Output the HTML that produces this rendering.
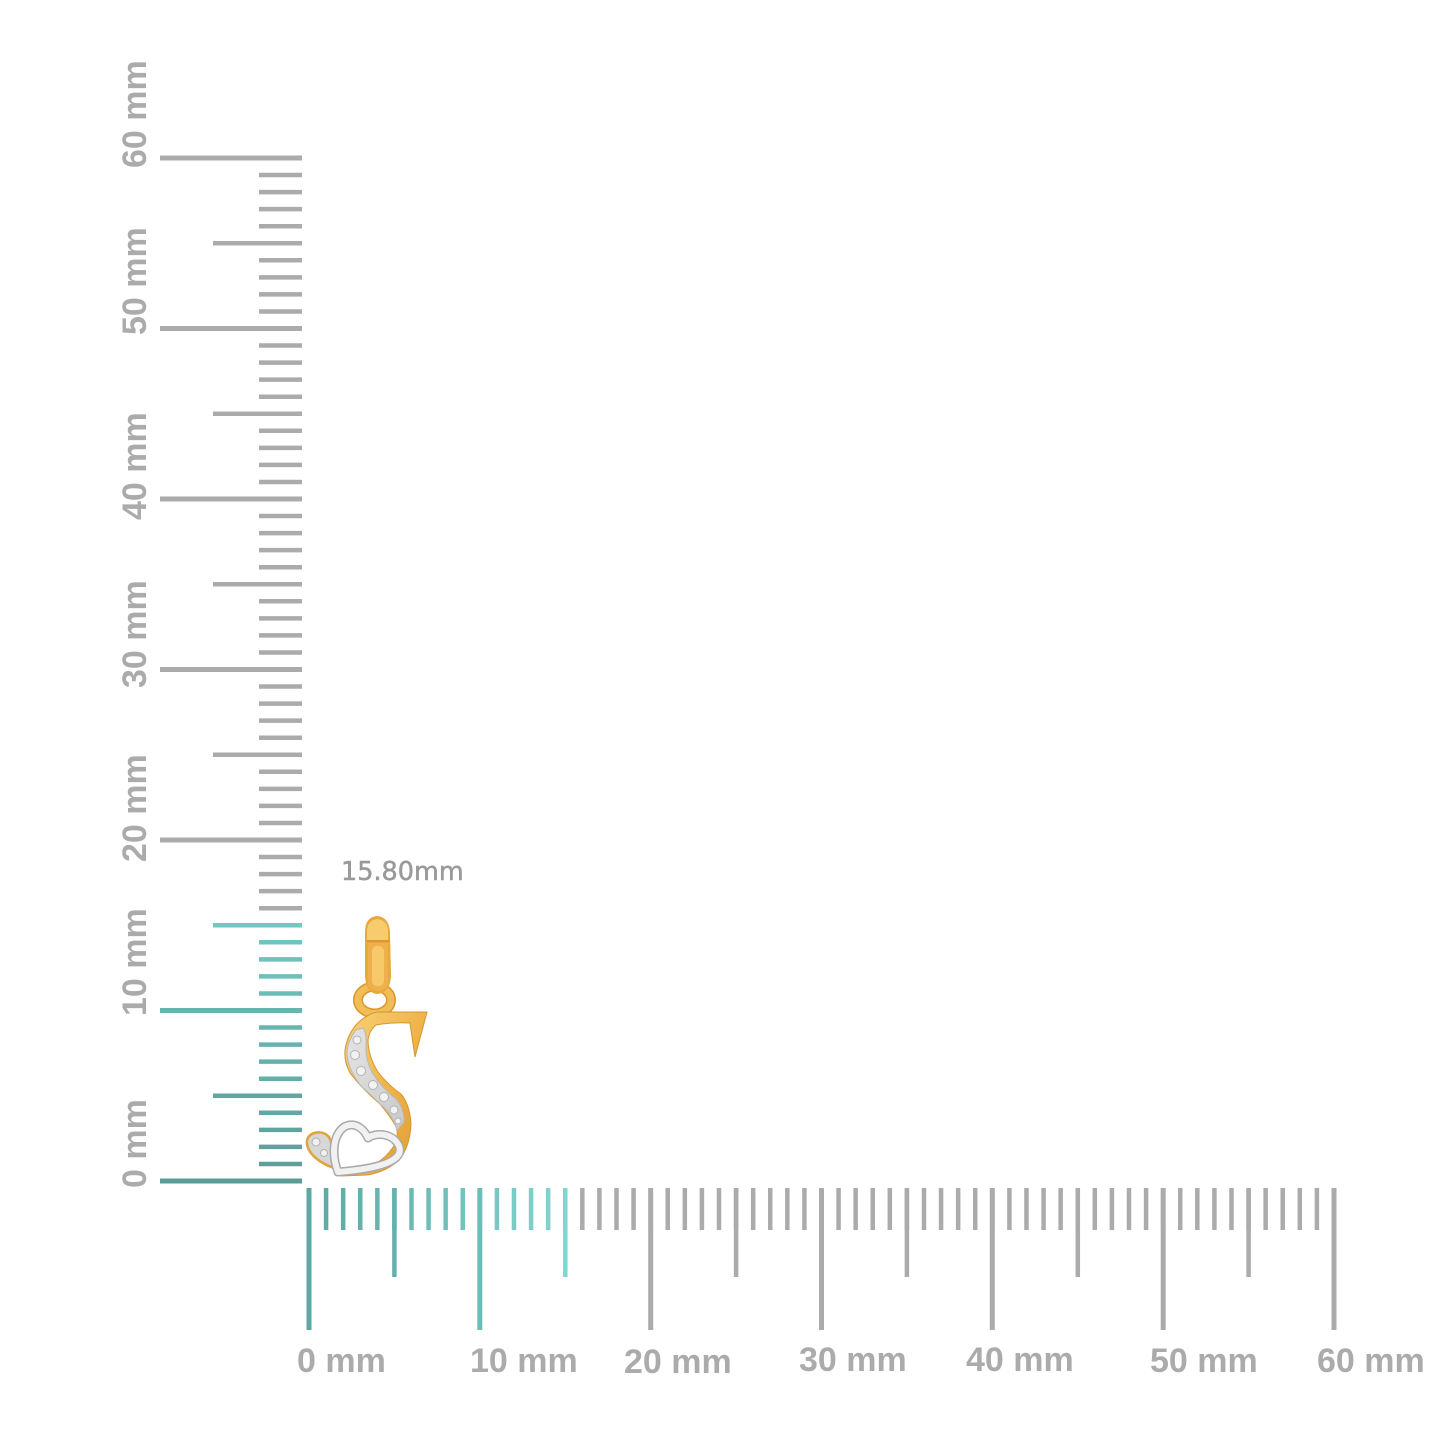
<!DOCTYPE html>
<html>
<head>
<meta charset="utf-8">
<style>
html,body{margin:0;padding:0;background:#fff;}
svg{display:block;}
.lbl{font-family:"Liberation Sans",Arial,sans-serif;font-weight:bold;font-size:34px;fill:#ababab;}
.dim{font-family:"DejaVu Sans","Liberation Sans",sans-serif;font-size:25.5px;fill:#9a9a9a;stroke:#9a9a9a;stroke-width:0.5px;}
</style>
</head>
<body>
<svg width="1445" height="1445" viewBox="0 0 1445 1445" xmlns="http://www.w3.org/2000/svg">
<defs>
<linearGradient id="tv" gradientUnits="userSpaceOnUse" x1="0" y1="1181" x2="0" y2="925">
<stop offset="0" stop-color="#5c9c98"/><stop offset="1" stop-color="#72c7c2"/>
</linearGradient>
<linearGradient id="th" gradientUnits="userSpaceOnUse" x1="309" y1="0" x2="565" y2="0">
<stop offset="0" stop-color="#5fa7a2"/><stop offset="1" stop-color="#80d6d0"/>
</linearGradient>
<linearGradient id="gold" x1="0" y1="0" x2="1" y2="1">
<stop offset="0" stop-color="#f8d37a"/><stop offset="0.5" stop-color="#efb44a"/><stop offset="1" stop-color="#dc9a30"/>
</linearGradient>
<linearGradient id="pave" x1="0" y1="0" x2="1" y2="1">
<stop offset="0" stop-color="#e4e4e4"/><stop offset="1" stop-color="#c9c9c9"/>
</linearGradient>
</defs>

<!-- vertical ruler minor ticks -->
<line x1="280.5" y1="155.75" x2="280.5" y2="911" stroke="#ababab" stroke-width="43" stroke-dasharray="4.5 12.55"/>
<line x1="280.5" y1="923" x2="280.5" y2="1183.5" stroke="url(#tv)" stroke-width="43" stroke-dasharray="4.5 12.55"/>
<!-- vertical ruler major and half ticks -->
<g stroke="#ababab">
<line x1="160" y1="158" x2="302" y2="158" stroke-width="5"/>
<line x1="213" y1="243.3" x2="302" y2="243.3" stroke-width="4.5"/>
<line x1="160" y1="328.5" x2="302" y2="328.5" stroke-width="5"/>
<line x1="213" y1="413.8" x2="302" y2="413.8" stroke-width="4.5"/>
<line x1="160" y1="499" x2="302" y2="499" stroke-width="5"/>
<line x1="213" y1="584.3" x2="302" y2="584.3" stroke-width="4.5"/>
<line x1="160" y1="669.5" x2="302" y2="669.5" stroke-width="5"/>
<line x1="213" y1="754.8" x2="302" y2="754.8" stroke-width="4.5"/>
<line x1="160" y1="840" x2="302" y2="840" stroke-width="5"/>
</g>
<line x1="213" y1="925.3" x2="302" y2="925.3" stroke="#72c7c2" stroke-width="4.5"/>
<line x1="160" y1="1010.5" x2="302" y2="1010.5" stroke="#68b5b0" stroke-width="5"/>
<line x1="213" y1="1095.8" x2="302" y2="1095.8" stroke="#61a6a1" stroke-width="4.5"/>
<line x1="160" y1="1181" x2="302" y2="1181" stroke="#5c9c98" stroke-width="5"/>

<!-- horizontal ruler minor ticks -->
<line x1="306.75" y1="1209" x2="568" y2="1209" stroke="url(#th)" stroke-width="42" stroke-dasharray="4.5 12.583"/>
<line x1="580.08" y1="1209" x2="1337" y2="1209" stroke="#ababab" stroke-width="42" stroke-dasharray="4.5 12.583"/>
<!-- horizontal ruler major and half ticks -->
<line x1="309" y1="1188" x2="309" y2="1330" stroke="#5fa7a2" stroke-width="5"/>
<line x1="394.4" y1="1188" x2="394.4" y2="1277" stroke="#64b1ac" stroke-width="4.5"/>
<line x1="479.8" y1="1188" x2="479.8" y2="1330" stroke="#6cbcb7" stroke-width="5"/>
<line x1="565.3" y1="1188" x2="565.3" y2="1277" stroke="#80d6d0" stroke-width="4.5"/>
<g stroke="#ababab">
<line x1="650.7" y1="1188" x2="650.7" y2="1330" stroke-width="5"/>
<line x1="736.1" y1="1188" x2="736.1" y2="1277" stroke-width="4.5"/>
<line x1="821.5" y1="1188" x2="821.5" y2="1330" stroke-width="5"/>
<line x1="906.9" y1="1188" x2="906.9" y2="1277" stroke-width="4.5"/>
<line x1="992.3" y1="1188" x2="992.3" y2="1330" stroke-width="5"/>
<line x1="1077.8" y1="1188" x2="1077.8" y2="1277" stroke-width="4.5"/>
<line x1="1163.2" y1="1188" x2="1163.2" y2="1330" stroke-width="5"/>
<line x1="1248.6" y1="1188" x2="1248.6" y2="1277" stroke-width="4.5"/>
<line x1="1334" y1="1188" x2="1334" y2="1330" stroke-width="5"/>
</g>

<!-- labels -->
<g class="lbl">
<text x="297" y="1372">0 mm</text>
<text x="470" y="1372">10 mm</text>
<text x="624" y="1373">20 mm</text>
<text x="799" y="1371">30 mm</text>
<text x="966" y="1371">40 mm</text>
<text x="1150" y="1372">50 mm</text>
<text x="1317" y="1372">60 mm</text>
<text transform="translate(146,168) rotate(-90)">60 mm</text>
<text transform="translate(146,335) rotate(-90)">50 mm</text>
<text transform="translate(146,520) rotate(-90)">40 mm</text>
<text transform="translate(146,688) rotate(-90)">30 mm</text>
<text transform="translate(146,862) rotate(-90)">20 mm</text>
<text transform="translate(146,1016) rotate(-90)">10 mm</text>
<text transform="translate(146,1188) rotate(-90)">0 mm</text>
</g>
<text class="dim" x="341" y="880">15.80mm</text>

<!-- pendant -->
<ellipse cx="374.5" cy="1000" rx="16.5" ry="13.5" fill="none" stroke="#d9972e" stroke-width="10"/>
<ellipse cx="374.5" cy="1000" rx="16.5" ry="13.5" fill="none" stroke="#f2bd55" stroke-width="7"/>
<path d="M365,932 Q365,917 377,916 Q389,917 390,932 L391,976 Q390,993 377,994 Q366,993 365,976 Z" fill="#e9a83a"/>
<path d="M367,930 Q368,920 377,919 Q387,920 388,930 L388,940 L367,940 Z" fill="#f6cc6e"/>
<path d="M368,943 L388,943 L388,984 Q386,991 378,991 Q369,991 368,984 Z" fill="#eeb04a"/>
<rect x="372" y="946" width="12" height="40" rx="5" fill="#f7c968"/>
<line x1="367" y1="941" x2="389" y2="941" stroke="#d4912c" stroke-width="1.5"/>
<path d="M377,1012 L427,1012 L415,1057 L410,1023 Q392,1022 376,1025 Q368,1032 368,1042 Q369,1058 378,1072 Q388,1085 401,1094 Q410,1105 411,1124 Q410,1147 399,1160 Q386,1172 367,1175 L342,1176 L348,1168 Q362,1166 375,1164 Q389,1156 396,1142 Q399,1132 395,1125 Q390,1116 380,1104 Q362,1089 350,1073 Q344,1062 345,1050 Q347,1036 356,1025 Q365,1015 377,1012 Z" fill="url(#gold)" stroke="#d6962e" stroke-width="1"/>
<path d="M356,1030 Q347,1042 347,1054 Q348,1070 362,1087 Q378,1101 388,1112 Q394,1120 397,1130 L404,1122 Q404,1108 396,1099 Q382,1088 373,1074 Q365,1060 366,1045 Q367,1034 363,1028 Z" fill="url(#pave)" stroke="#b9b9b9" stroke-width="1"/>
<g fill="#f2f2f2" stroke="#b4b4b4" stroke-width="1">
<circle cx="357" cy="1040" r="4"/>
<circle cx="355" cy="1055" r="4.5"/>
<circle cx="361" cy="1071" r="4.5"/>
<circle cx="373" cy="1085" r="4.5"/>
<circle cx="384" cy="1097" r="4.5"/>
<circle cx="394" cy="1110" r="4"/>
<circle cx="398" cy="1121" r="3"/>
</g>
<path d="M307,1141 C308,1132 322,1129 329,1137 C334,1146 332,1158 334,1168 C322,1164 306,1154 307,1141 Z" fill="#d7d7d7" stroke="#e0a43c" stroke-width="2.5"/>
<circle cx="316" cy="1142" r="4" fill="#f0f0f0" stroke="#b0b0b0" stroke-width="1"/>
<circle cx="324" cy="1153" r="3.5" fill="#f0f0f0" stroke="#b0b0b0" stroke-width="1"/>
<path d="M338,1172 C332,1156 332,1136 344,1127 C355,1121 364,1129 368,1138 C376,1132 393,1133 399,1146 C404,1159 386,1168 338,1172 Z" fill="none" stroke="#a9a9a9" stroke-width="9" stroke-linejoin="round"/>
<path d="M338,1172 C332,1156 332,1136 344,1127 C355,1121 364,1129 368,1138 C376,1132 393,1133 399,1146 C404,1159 386,1168 338,1172 Z" fill="none" stroke="#f1f1f1" stroke-width="6" stroke-linejoin="round"/>
</svg>
</body>
</html>
